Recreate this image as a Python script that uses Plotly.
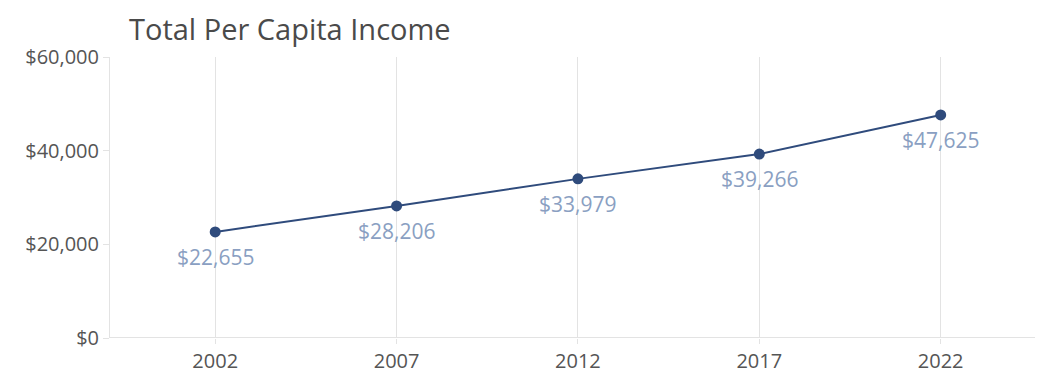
import plotly.graph_objects as go

years = [2002, 2007, 2012, 2017, 2022]
income = [22655, 28206, 33979, 39266, 47625]
y_ticks = [0, 20000, 40000, 60000]
y_tick_labels = ["$0", "$20,000", "$40,000", "$60,000"]

font_family = "Open Sans, DejaVu Sans, sans-serif"
line_color = "#2f4b7c"
label_color = "#8a9fc2"
axis_text = "#555555"
grid_color = "#e3e3e3"

fig = go.Figure()
fig.add_trace(go.Scatter(
    x=years,
    y=income,
    mode="lines+markers",
    line=dict(color=line_color, width=2),
    marker=dict(color=line_color, size=11),
    hoverinfo="skip",
    showlegend=False,
))

# value labels under each point
for yr, val in zip(years, income):
    fig.add_annotation(
        x=yr, y=val, text=f"${val:,}", showarrow=False,
        yshift=-25, font=dict(family=font_family, size=21, color=label_color),
    )

fig.update_layout(
    width=1051, height=382,
    margin=dict(l=110, r=16, t=57, b=44),
    paper_bgcolor="white", plot_bgcolor="white",
    font=dict(family=font_family, color=axis_text),
    title=dict(
        text="Total Per Capita Income",
        x=129 / 1051, xanchor="left", y=1 - 30 / 382, yanchor="middle",
        font=dict(family=font_family, size=29, color="#4a4a4a"),
    ),
)
fig.update_xaxes(
    range=[1999.1, 2024.6],
    tickvals=years, ticktext=[str(y) for y in years],
    showgrid=True, gridcolor=grid_color, gridwidth=1,
    showline=False, zeroline=False, automargin=False,
    ticks="outside", ticklen=5, tickcolor=grid_color,
    tickfont=dict(size=20, color=axis_text),
)
fig.update_yaxes(
    range=[0, 60000],
    tickvals=y_ticks, ticktext=y_tick_labels,
    showgrid=False, zeroline=False, automargin=False,
    showline=True, linecolor=grid_color, linewidth=1,
    ticks="outside", ticklen=6, tickcolor=grid_color,
    tickfont=dict(size=20, color=axis_text),
)
# baseline along $0
fig.add_shape(type="line", xref="paper", yref="y", x0=0, x1=1, y0=0, y1=0,
              line=dict(color=grid_color, width=2), layer="below")

fig.write_html("out.html")
